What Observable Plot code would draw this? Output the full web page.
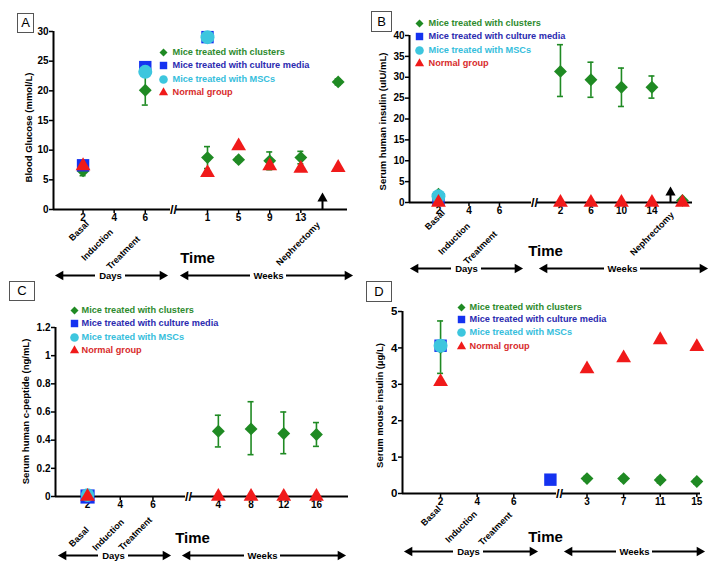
<!DOCTYPE html>
<html><head><meta charset="utf-8">
<script src="https://cdn.jsdelivr.net/npm/d3@7"></script>
<script src="https://cdn.jsdelivr.net/npm/@observablehq/plot@0.6"></script>
<style>
html,body{margin:0;padding:0;background:#fff;}
#fig{position:relative;width:714px;height:568px;overflow:hidden;font-family:"Liberation Sans",Arial,Helvetica,sans-serif;background:#fff;}
.panel{position:absolute;}
.panel svg{overflow:visible;}
.plab{position:absolute;border:1px solid #555;background:#fff;font-size:13px;text-align:center;color:#000;box-sizing:border-box;}
</style></head><body><div id="fig"></div>
<script>
const seriesNames = ["Mice treated with clusters", "Mice treated with culture media", "Mice treated with MSCs", "Normal group"];
const seriesSymbols = ["diamond2", "square", "circle", "triangle"];
const seriesColors = ["#1f8a23", "#1432f0", "#3dc6de", "#f01a1a"];
const legendTextColors = ["#2e8b2e", "#2b2bb0", "#36bedc", "#d82c2c"];

// Panel A: Blood glucose
const aX = [0, 1, 2, 4, 5, 6, 7, 8.2];
const aTicks = ["2", "4", "6", "1", "5", "9", "13", null];
const aClusters   = [6.5, null, 20.1, 8.75, 8.4, 8.2, 8.75, 21.5];
const aClustersLo = [5.7, null, 17.6, 6.9, 8.0, 6.7, 7.7, 21.0];
const aClustersHi = [7.4, null, 22.6, 10.6, 8.8, 9.7, 9.8, 22.0];
const aMedia  = [7.45, null, 24.0, 29.05, null, null, null, null];
const aMSC    = [null, null, 23.2, 29.05, null, null, null, null];
const aNormal = [7.35, null, null, 6.2, 10.7, 7.35, 6.9, 7.05];
const aYTicks = [0, 5, 10, 15, 20, 25, 30];

// Panel B: Serum human insulin
const bX = [0, 1, 2, 4, 5, 6, 7, 8.0];
const bTicks = ["2", "4", "6", "2", "6", "10", "14", null];
const bClusters   = [2.0, null, null, 31.4, 29.4, 27.6, 27.6, 0.5];
const bClustersLo = [null, null, null, 25.4, 25.2, 23.0, 25.0, null];
const bClustersHi = [null, null, null, 37.8, 33.6, 32.2, 30.3, null];
const bMedia  = [0.8, null, null, null, null, null, null, null];
const bMSC    = [1.5, null, null, null, null, null, null, null];
const bNormal = [0, null, null, 0, 0, 0, 0, 0];
const bYTicks = [0, 5, 10, 15, 20, 25, 30, 35, 40];

// Panel C: Serum human c-peptide
const cX = [0, 1, 2, 4, 5, 6, 7];
const cTicks = ["2", "4", "6", "4", "8", "12", "16"];
const cClusters   = [null, null, null, 0.463, 0.48, 0.447, 0.44];
const cClustersLo = [null, null, null, 0.352, 0.297, 0.304, 0.356];
const cClustersHi = [null, null, null, 0.577, 0.673, 0.6, 0.525];
const cMedia  = [0, null, null, null, null, null, null];
const cMSC    = [0.01, null, null, null, null, null, null];
const cNormal = [0, null, null, 0, 0, 0, 0];
const cYTicks = [0, 0.2, 0.4, 0.6, 0.8, 1, 1.2];

// Panel D: Serum mouse insulin
const dX = [0, 1, 2, 3.0, 4, 5, 6, 7];
const dTicks = ["2", "4", "6", null, "3", "7", "11", "15"];
const dClusters   = [4.01, null, null, null, 0.41, 0.41, 0.37, 0.33];
const dClustersLo = [3.30, null, null, null, 0.34, 0.34, 0.29, 0.26];
const dClustersHi = [4.74, null, null, null, 0.47, 0.47, 0.44, 0.39];
const dMedia  = [4.06, null, null, 0.38, null, null, null, null];
const dMSC    = [4.06, null, null, null, null, null, null, null];
const dNormal = [3.07, null, null, null, 3.42, 3.72, 4.22, 4.03];
const dYTicks = [0, 1, 2, 3, 4, 5];

const F = "'Liberation Sans', Arial, Helvetica, sans-serif";
const markerR = [5.8, 7, 7, 5.5];
const legendR = [3.6, 4.2, 4.3, 3.4];

function buildPanel(c) {
  const W = 357, H = 284;
  const fx = (W - c.ml - c.mr) / (c.xd[1] - c.xd[0]);
  const ix = px => c.xd[0] + (px - c.ml) / fx;
  const iy = py => c.yd[1] - (py - c.mt) / (H - c.mt - c.mb) * (c.yd[1] - c.yd[0]);
  const pts = (vals, lo, hi) => c.x.map((x, i) => ({x, y: vals[i], lo: lo ? lo[i] : null, hi: hi ? hi[i] : null})).filter(d => d.y != null);
  const cl = pts(c.series[0], c.lo, c.hi);
  const err = cl.filter(d => d.lo != null);
  const tickPos = c.x.filter((x, i) => c.ticks[i] != null);
  const tickLab = new Map(c.x.map((x, i) => [x, c.ticks[i]]));
  const cap = 3 / fx, gap = 3 / fx;
  const y0 = c.yd[0];
  const bx = ix(c.breakPx);
  const rr = c.markerR || markerR;
  const marks = [];
  marks.push(Plot.ruleY([[c.xd[0], bx - gap], [bx + gap, c.xd[1]]], {x1: d => d[0], x2: d => d[1], y: () => y0, stroke: "#000", strokeWidth: 2}));
  marks.push(Plot.ruleX([c.xd[0]], {x: d => d, y1: () => c.yd[0], y2: () => c.yd[1], stroke: "#000", strokeWidth: 2}));
  marks.push(Plot.text(["//"], {x: () => bx, y: () => y0, text: d => d, fontSize: 13, fontWeight: "bold"}));
  marks.push(Plot.axisY({ticks: c.yTicks, tickFormat: d => String(+d.toFixed(1)), tickSize: 4, tickPadding: 1, strokeWidth: 1.5, label: null, fontSize: c.yFont || 10, fontWeight: "bold"}));
  marks.push(Plot.axisX({ticks: tickPos, tickFormat: d => tickLab.get(d), tickSize: 4, tickPadding: 0, strokeWidth: 1.5, label: null, fontSize: 10, fontWeight: "bold"}));
  marks.push(Plot.ruleX(err, {x: "x", y1: "lo", y2: "hi", stroke: seriesColors[0], strokeWidth: 1.6}));
  marks.push(Plot.ruleY(err, {y: "lo", x1: d => d.x - cap, x2: d => d.x + cap, stroke: seriesColors[0], strokeWidth: 1.6}));
  marks.push(Plot.ruleY(err, {y: "hi", x1: d => d.x - cap, x2: d => d.x + cap, stroke: seriesColors[0], strokeWidth: 1.6}));
  c.series.forEach((vals, i) => {
    marks.push(Plot.dot(pts(vals), {x: "x", y: "y", symbol: seriesSymbols[i], r: rr[i], fill: seriesColors[i], stroke: "none"}));
  });
  seriesNames.forEach((s, i) => {
    marks.push(Plot.dot([s], {x: () => ix(c.leg.x), y: () => iy(c.leg.y[i]), symbol: seriesSymbols[i], r: legendR[i], fill: seriesColors[i], stroke: "none"}));
    marks.push(Plot.text([s], {x: () => ix(c.leg.tx), y: () => iy(c.leg.y[i]), text: d => d, textAnchor: "start", fill: legendTextColors[i], fontSize: 9.2, fontWeight: "bold"}));
  });
  marks.push(Plot.text([c.ylabel], {x: () => ix(c.yl[0]), y: () => iy(c.yl[1]), text: d => d, rotate: -90, fontSize: 9.5, fontWeight: "bold"}));
  marks.push(Plot.text(["Time"], {x: () => ix(c.time[0]), y: () => iy(c.time[1]), text: d => d, fontSize: 15, fontWeight: "bold"}));
  [[c.days, "Days", 15], [c.weeks, "Weeks", 18]].forEach(([seg, label, hw]) => {
    const [l, r, cx] = seg;
    const yy = iy(c.arrowY);
    marks.push(Plot.ruleY([[l + 5, cx - hw], [cx + hw, r - 5]], {x1: d => ix(d[0]), x2: d => ix(d[1]), y: () => yy, stroke: "#000", strokeWidth: 2}));
    marks.push(Plot.dot([[l + 5, -90], [r - 5, 90]], {x: d => ix(d[0]), y: () => yy, rotate: d => d[1], symbol: "triangle", r: 3.6, fill: "#000", stroke: "none"}));
    marks.push(Plot.text([label], {x: () => ix(cx), y: () => yy, text: d => d, fontSize: 9.5, fontWeight: "bold"}));
  });
  marks.push(Plot.text(c.phases, {x: d => ix(d[1]), y: d => iy(d[2]), text: d => d[0], rotate: -45, textAnchor: "end", lineAnchor: "middle", fontSize: 9, fontWeight: "bold"}));
  if (c.neph) {
    const [px, pb, pt] = c.neph;
    marks.push(Plot.ruleX([px], {x: d => ix(d), y1: () => iy(pb), y2: () => iy(pt + 5), stroke: "#000", strokeWidth: 2}));
    marks.push(Plot.dot([px], {x: d => ix(d), y: () => iy(pt + 5), symbol: "triangle", r: 3.8, fill: "#000", stroke: "none"}));
  }
  return Plot.plot({
    width: W, height: H,
    marginLeft: c.ml, marginRight: c.mr, marginTop: c.mt, marginBottom: c.mb,
    x: {domain: c.xd}, y: {domain: c.yd},
    style: {fontFamily: F, fontSize: "10px", fontWeight: "bold", color: "#000", background: "transparent", overflow: "visible"},
    marks
  });
}

const panels = [
  {left: 0, top: 0, ml: 53, mr: 10, mt: 31, mb: 75, xd: [-0.95, 8.5], yd: [0, 30],
   x: aX, ticks: aTicks, series: [aClusters, aMedia, aMSC, aNormal], lo: aClustersLo, hi: aClustersHi, yTicks: aYTicks,
   breakPx: 173, leg: {x: 163, tx: 172, y: [52, 65, 79, 92]}, ylabel: "Blood Glucose (mmol/L)", yl: [28, 127],
   time: [197, 258], arrowY: 275, days: [55, 167, 110], weeks: [180, 352, 268],
   phases: [["Basal", 87, 222], ["Induction", 111, 230], ["Treatment", 138, 237], ["Nephrectomy", 318, 223]],
   neph: [322, 209, 193]},
  {left: 357, top: 0, ml: 52, mr: 22, mt: 35, mb: 82, xd: [-0.95, 8.33], yd: [0, 40],
   x: bX, ticks: bTicks, series: [bClusters, bMedia, bMSC, bNormal], lo: bClustersLo, hi: bClustersHi, yTicks: bYTicks,
   breakPx: 177, leg: {x: 62, tx: 71, y: [23, 36, 50, 63]}, ylabel: "Serum human insulin (uIU/mL)", yl: [25, 121],
   time: [188, 251], arrowY: 268, days: [53, 165, 109], weeks: [182, 350, 265],
   phases: [["Basal", 86, 211], ["Induction", 111, 224], ["Treatment", 138, 232], ["Nephrectomy", 315, 213]],
   neph: [313, 202, 187]},
  {left: 0, top: 284, ml: 55, mr: 9, mt: 43, mb: 72, xd: [-0.98, 7.98], yd: [0, 1.2],
   x: cX, ticks: cTicks, series: [cClusters, cMedia, cMSC, cNormal], lo: cClustersLo, hi: cClustersHi, yTicks: cYTicks,
   markerR: [5.8, 8, 6.8, 5.5],
   breakPx: 188, leg: {x: 74, tx: 81, y: [26, 39, 53, 66]}, ylabel: "Serum human c-peptide (ng/mL)", yl: [25, 127],
   time: [192, 254], arrowY: 271, days: [58, 170, 113], weeks: [182, 345, 262],
   phases: [["Basal", 87, 244], ["Induction", 122, 236], ["Treatment", 150, 234]]},
  {left: 357, top: 284, ml: 45, mr: 14, mt: 27, mb: 75, xd: [-1.04, 7.1], yd: [0, 5], yFont: 11.5,
   x: dX, ticks: dTicks, series: [dClusters, dMedia, dMSC, dNormal], lo: dClustersLo, hi: dClustersHi, yTicks: dYTicks,
   breakPx: 202, leg: {x: 104, tx: 112, y: [23, 35, 48, 62]}, ylabel: "Serum mouse insulin (\u00b5g/L)", yl: [22, 121],
   time: [188, 253], arrowY: 267, days: [47, 180, 111], weeks: [207, 347, 277],
   phases: [["Basal", 82, 223], ["Induction", 118, 228], ["Treatment", 153, 229]]}
];

const fig = document.getElementById("fig");
panels.forEach(p => {
  const div = document.createElement("div");
  div.className = "panel";
  div.style.left = p.left + "px";
  div.style.top = p.top + "px";
  div.appendChild(buildPanel(p));
  fig.appendChild(div);
});
[["A", 17, 13, 17, 20], ["B", 371, 11, 21, 21], ["C", 9, 281, 26, 20], ["D", 366, 281, 26, 21]].forEach(([t, l, tp, w, h]) => {
  const d = document.createElement("div");
  d.className = "plab";
  d.textContent = t;
  Object.assign(d.style, {left: l + "px", top: tp + "px", width: w + "px", height: h + "px", lineHeight: (h - 2) + "px"});
  fig.appendChild(d);
});
</script></body></html>
